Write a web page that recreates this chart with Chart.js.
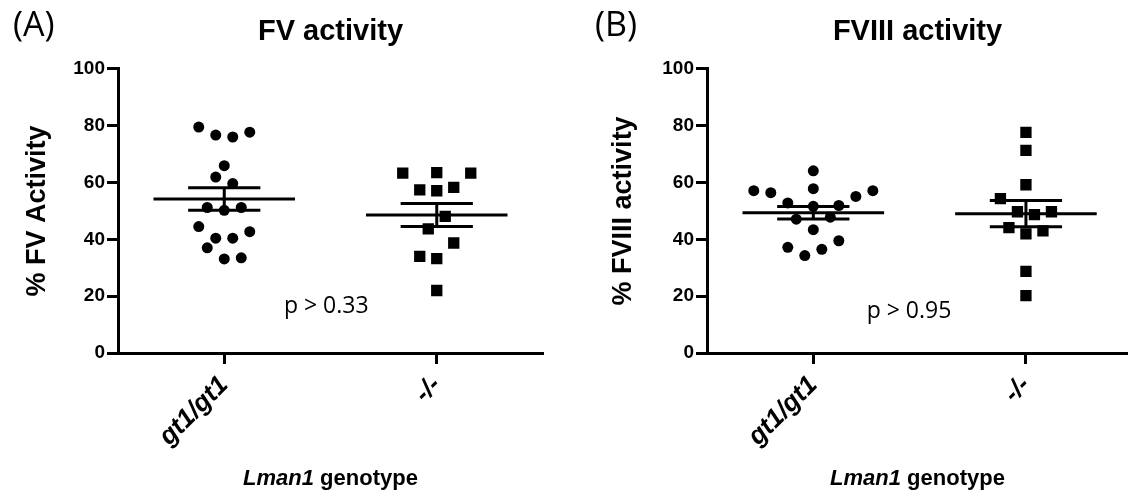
<!DOCTYPE html>
<html>
<head>
<meta charset="utf-8">
<script src="https://cdn.jsdelivr.net/npm/chart.js@4.4.1/dist/chart.umd.min.js"></script>
<style>
  html, body { margin: 0; padding: 0; background: #fff; }
  .row { display: flex; width: 1128px; height: 493px; }
  canvas { display: block; }
</style>
</head>
<body>
<div class="row">
  <canvas id="fv" width="564" height="493"></canvas>
  <canvas id="fviii" width="564" height="493"></canvas>
</div>
<script>
const categories = ['gt1/gt1', '-/-'];
const yTicks = [0, 20, 40, 60, 80, 100];

// % FV activity, panel A
const fvGt1 = [79.5, 76.7, 76.0, 77.7, 65.9, 61.9, 59.6, 51.2, 50.2, 51.2, 44.5, 42.7, 40.4, 40.4, 37.0, 33.1, 33.5];
const fvKo = [63.3, 63.5, 63.3, 57.4, 57.1, 58.3, 48.1, 43.7, 38.7, 34.0, 33.2, 22.0];

// % FVIII activity, panel B
const fviiiGt1 = [57.1, 56.4, 64.1, 57.8, 55.1, 57.1, 52.8, 51.6, 51.9, 47.1, 47.8, 43.4, 39.5, 37.2, 36.5, 34.3];
const fviiiKo = [77.6, 71.3, 59.2, 54.3, 49.7, 48.7, 49.7, 44.1, 41.9, 43.0, 28.7, 20.2];

// horizontal jitter slot of each point (same order as the values)
const fvGt1Slots = [-3, -1, 1, 3, 0, -1, 1, -2, 0, 2, -3, 3, -1, 1, -2, 0, 2];
const fvKoSlots = [-4, 0, 4, -2, 0, 2, 1, -1, 2, -2, 0, 0];
const fviiiGt1Slots = [-7, -5, 0, 0, 5, 7, -3, 0, 3, -2, 2, 0, 3, -3, 1, -1];
const fviiiKoSlots = [0, 0, 0, -3, -1, 1, 3, -2, 0, 2, 0, 0];

const pText = ['p > 0.33', 'p > 0.95'];

const SANS = '"Liberation Sans", Arial, sans-serif';
const JITTER = 0.04;

function mean(a) { return a.reduce((s, v) => s + v, 0) / a.length; }
function sem(a) {
    const m = mean(a);
    const sd = Math.sqrt(a.reduce((s, v) => s + (v - m) * (v - m), 0) / (a.length - 1));
    return sd / Math.sqrt(a.length);
}

function scatterPoints(values, slots, center) {
    return values.map((v, i) => ({ x: center + slots[i] * JITTER, y: v }));
}

// mean line + SEM whiskers, segments split by null points
function meanSemSegments(groups) {
    const out = [];
    groups.forEach((vals, i) => {
        const c = i + 0.5, m = mean(vals), s = sem(vals);
        out.push({ x: c - 0.333, y: m }, { x: c + 0.333, y: m }, { x: null, y: null });
        out.push({ x: c - 0.17, y: m + s }, { x: c + 0.17, y: m + s }, { x: null, y: null });
        out.push({ x: c - 0.17, y: m - s }, { x: c + 0.17, y: m - s }, { x: null, y: null });
        out.push({ x: c, y: m - s }, { x: c, y: m + s }, { x: null, y: null });
    });
    return out;
}

const extraText = {
    id: 'extraText',
    afterDraw(chart, args, o) {
        const { ctx, chartArea, scales: { x, y } } = chart;
        ctx.save();
        ctx.fillStyle = '#000';
        ctx.textBaseline = 'alphabetic';

        ctx.font = '34px "Open Sans"';
        ctx.textAlign = 'left';
        ctx.fillText(o.letter, o.letterX, 36);

        ctx.font = '23px "Open Sans"';
        ctx.textAlign = 'center';
        ctx.fillText(o.p, x.getPixelForValue(o.pAt[0]), y.getPixelForValue(o.pAt[1]));

        // x title: "Lman1" italic, "genotype" upright
        const a = 'Lman1', b = ' genotype';
        ctx.textAlign = 'left';
        ctx.font = 'italic bold 22px ' + SANS;
        const wa = ctx.measureText(a).width;
        ctx.font = 'bold 22px ' + SANS;
        const wb = ctx.measureText(b).width;
        const sx = (chartArea.left + chartArea.right) / 2 - (wa + wb) / 2;
        ctx.font = 'italic bold 22px ' + SANS;
        ctx.fillText(a, sx, 485);
        ctx.font = 'bold 22px ' + SANS;
        ctx.fillText(b, sx + wa, 485);
        ctx.restore();
    }
};

function makeChart(id, cfg) {
    const ctx = document.getElementById(id).getContext('2d');
    return new Chart(ctx, {
        type: 'scatter',
        data: {
            datasets: [
                {
                    data: meanSemSegments([cfg.gt1, cfg.ko]),
                    showLine: true,
                    spanGaps: false,
                    borderColor: '#000',
                    borderWidth: 3,
                    borderCapStyle: 'butt',
                    pointRadius: 0
                },
                {
                    data: scatterPoints(cfg.gt1, cfg.gt1Slots, 0.5),
                    pointStyle: 'circle',
                    pointRadius: 5.5,
                    pointBackgroundColor: '#000',
                    pointBorderWidth: 0
                },
                {
                    data: scatterPoints(cfg.ko, cfg.koSlots, 1.5),
                    pointStyle: 'rect',
                    pointRadius: 8,
                    pointBackgroundColor: '#000',
                    pointBorderWidth: 0
                }
            ]
        },
        options: {
            responsive: false,
            animation: false,
            events: [],
            layout: { autoPadding: false, padding: { left: 0, right: cfg.padRight, top: 0, bottom: 0 } },
            plugins: {
                legend: { display: false },
                tooltip: { enabled: false },
                title: {
                    display: true,
                    text: cfg.title,
                    fullSize: false,
                    color: '#000',
                    font: { family: SANS, size: 29, weight: 'bold' },
                    padding: { top: 15, bottom: 19 }
                },
                extraText: { letter: cfg.letter, letterX: cfg.letterX, p: cfg.p, pAt: cfg.pAt }
            },
            scales: {
                x: {
                    type: 'linear',
                    min: 0,
                    max: cfg.xMax,
                    bounds: 'data',
                    afterBuildTicks: (s) => { s.ticks = categories.map((c, i) => ({ value: i + 0.5 })); },
                    afterFit: (s) => { s.height = 140; },
                    border: { display: true, color: '#000', width: 3 },
                    grid: { drawOnChartArea: false, drawTicks: true, tickLength: 11, tickWidth: 3, tickColor: '#000' },
                    ticks: {
                        autoSkip: false,
                        maxRotation: 45,
                        minRotation: 45,
                        padding: 6,
                        color: '#000',
                        font: { family: SANS, size: 26, weight: 'bold', style: 'italic' },
                        callback: (v, i) => categories[i]
                    }
                },
                y: {
                    min: 0,
                    max: 100,
                    afterBuildTicks: (s) => { s.ticks = yTicks.map(v => ({ value: v })); },
                    afterFit: (s) => { s.width = cfg.yWidth; },
                    border: { display: true, color: '#000', width: 3 },
                    grid: { drawOnChartArea: false, drawTicks: true, tickLength: 11, tickWidth: 3, tickColor: '#000' },
                    ticks: {
                        padding: 2,
                        color: '#000',
                        font: { family: SANS, size: 19, weight: 'bold' }
                    },
                    title: {
                        display: true,
                        text: cfg.yTitle,
                        color: '#000',
                        font: { family: SANS, size: 27, weight: 'bold' },
                        padding: { top: cfg.yTitlePad, bottom: 0 }
                    }
                }
            }
        },
        plugins: [extraText]
    });
}

makeChart('fv', {
    title: 'FV activity', yTitle: '% FV Activity', letter: '(A)', letterX: 13,
    gt1: fvGt1, ko: fvKo, gt1Slots: fvGt1Slots, koSlots: fvKoSlots,
    p: pText[0], pAt: [0.98, 14], xMax: 2, padRight: 21, yWidth: 118, yTitlePad: 21
});

makeChart('fviii', {
    title: 'FVIII activity', yTitle: '% FVIII activity', letter: '(B)', letterX: 31,
    gt1: fviiiGt1, ko: fviiiKo, gt1Slots: fviiiGt1Slots, koSlots: fviiiKoSlots,
    p: pText[1], pAt: [0.95, 12.3], xMax: 1.98, padRight: 0, yWidth: 143, yTitlePad: 43
});
</script>
</body>
</html>
